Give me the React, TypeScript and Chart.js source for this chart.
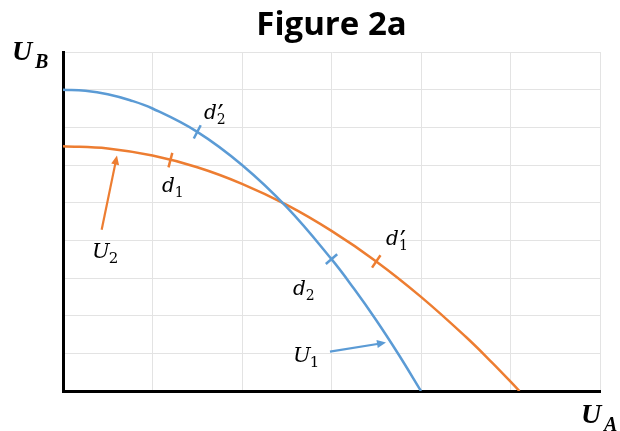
import React, { useEffect, useRef } from "react";
import { Chart, registerables } from "chart.js";

Chart.register(...registerables);

// ---- data ----
const TITLE = "Figure 2a";
const xRange = [0, 6];
const yRange = [0, 9];

const u1X = [0, 0.25, 0.5, 0.75, 1, 1.5, 2, 2.5, 3, 3.25, 3.5, 3.75, 4];
const u1Y = [8, 7.97, 7.88, 7.72, 7.5, 6.88, 6, 4.88, 3.5, 2.72, 1.88, 0.97, 0];

const u2X = [0, 0.5, 1, 1.5, 2, 2.5, 3, 3.5, 4, 4.5, 4.8, 5.1];
const u2Y = [6.5, 6.44, 6.25, 5.94, 5.5, 4.94, 4.25, 3.44, 2.5, 1.44, 0.74, 0];

// tick marks on the curves: series index, x, y
const markSeries = [0, 1, 0, 1];
const markX = [1.5, 1.2, 3.0, 3.5];
const markY = [6.88, 6.13, 3.5, 3.44];

// math labels: main letter, subscript, prime, position (data units: left, baseline)
const labelMain = ["d", "d", "U", "d", "U", "d"];
const labelSub = ["2", "1", "2", "2", "1", "1"];
const labelPrime = [true, false, false, false, false, true];
const labelX = [1.575, 1.106, 0.324, 2.57, 2.57, 3.61];
const labelY = [7.21, 5.27, 3.54, 2.55, 0.77, 3.88];

// arrows: series colour index, from (x,y) to tip (x,y)
const arrowSeries = [1, 0];
const arrowFromX = [0.432, 2.983];
const arrowFromY = [4.28, 1.045];
const arrowToX = [0.603, 3.609];
const arrowToY = [6.25, 1.285];

const COLORS = ["#5B9BD5", "#ED7D31"];
const SERIES_X = [u1X, u2X];
const SERIES_Y = [u1Y, u2Y];

const overlay = {
  id: "overlay",
  afterDraw(chart: any) {
    const ctx = chart.ctx as CanvasRenderingContext2D;
    const xs = chart.scales.x;
    const ys = chart.scales.y;
    const area = chart.chartArea;
    ctx.save();

    // title
    ctx.fillStyle = "#000";
    ctx.font = 'bold 33px "Open Sans"';
    ctx.textAlign = "center";
    ctx.textBaseline = "alphabetic";
    ctx.fillText(TITLE, (area.left + area.right) / 2, 35);

    // axis labels
    ctx.textAlign = "left";
    ctx.font = 'bold italic 28px "Liberation Serif"';
    ctx.fillText("U", area.left - 51, area.top + 8);
    ctx.font = 'bold italic 20px "Liberation Serif"';
    ctx.fillText("B", area.left - 28, area.top + 16);
    ctx.font = 'bold italic 28px "Liberation Serif"';
    ctx.fillText("U", area.right - 19, area.bottom + 32);
    ctx.font = 'bold italic 20px "Liberation Serif"';
    ctx.fillText("A", area.right + 4, area.bottom + 40);

    // tick marks
    for (let i = 0; i < markX.length; i++) {
      const s = markSeries[i];
      const sx = SERIES_X[s];
      const sy = SERIES_Y[s];
      let k = 0;
      while (k < sx.length - 2 && sx[k + 1] < markX[i]) k++;
      const dx = xs.getPixelForValue(sx[k + 1]) - xs.getPixelForValue(sx[k]);
      const dy = ys.getPixelForValue(sy[k + 1]) - ys.getPixelForValue(sy[k]);
      const len = Math.hypot(dx, dy);
      const nx = -dy / len;
      const ny = dx / len;
      const px = xs.getPixelForValue(markX[i]);
      const py = ys.getPixelForValue(markY[i]);
      ctx.strokeStyle = COLORS[s];
      ctx.lineWidth = 2.5;
      ctx.beginPath();
      ctx.moveTo(px - nx * 7.5, py - ny * 7.5);
      ctx.lineTo(px + nx * 7.5, py + ny * 7.5);
      ctx.stroke();
    }

    // arrows
    for (let i = 0; i < arrowFromX.length; i++) {
      const x0 = xs.getPixelForValue(arrowFromX[i]);
      const y0 = ys.getPixelForValue(arrowFromY[i]);
      const x1 = xs.getPixelForValue(arrowToX[i]);
      const y1 = ys.getPixelForValue(arrowToY[i]);
      const a = Math.atan2(y1 - y0, x1 - x0);
      const c = COLORS[arrowSeries[i]];
      ctx.strokeStyle = c;
      ctx.fillStyle = c;
      ctx.lineWidth = 2.2;
      const hl = 9;
      const hw = 4;
      ctx.beginPath();
      ctx.moveTo(x0, y0);
      ctx.lineTo(x1 - Math.cos(a) * hl * 0.8, y1 - Math.sin(a) * hl * 0.8);
      ctx.stroke();
      ctx.beginPath();
      ctx.moveTo(x1, y1);
      ctx.lineTo(x1 - Math.cos(a) * hl - Math.sin(a) * hw, y1 - Math.sin(a) * hl + Math.cos(a) * hw);
      ctx.lineTo(x1 - Math.cos(a) * hl + Math.sin(a) * hw, y1 - Math.sin(a) * hl - Math.cos(a) * hw);
      ctx.closePath();
      ctx.fill();
    }

    // math labels
    ctx.fillStyle = "#000";
    for (let i = 0; i < labelMain.length; i++) {
      const lx = xs.getPixelForValue(labelX[i]);
      const ly = ys.getPixelForValue(labelY[i]);
      const isU = labelMain[i] === "U";
      const size = isU ? 21 : 20;
      ctx.font = `italic ${size}px "DejaVu Serif"`;
      ctx.fillText(labelMain[i], lx, ly);
      const w = ctx.measureText(labelMain[i]).width;
      ctx.font = `${Math.round(size * 0.7)}px "DejaVu Serif"`;
      ctx.fillText(labelSub[i], lx + w - (isU ? 1 : 0), ly + 5);
      if (labelPrime[i]) {
        ctx.font = `26px "DejaVu Serif"`;
        ctx.fillText("\u2032", lx + w + 1, ly + 4);
      }
    }
    ctx.restore();
  },
};

export default function App() {
  const ref = useRef<HTMLCanvasElement | null>(null);
  useEffect(() => {
    if (!ref.current) return;
    const datasets = [0, 1].map((s) => ({
      label: s === 0 ? "U1" : "U2",
      data: SERIES_X[s].map((x, i) => ({ x, y: SERIES_Y[s][i] })),
      borderColor: COLORS[s],
      backgroundColor: COLORS[s],
      borderWidth: 2.5,
      pointRadius: 0,
      showLine: true,
      fill: false,
      tension: 0.4,
    }));
    const chart = new Chart(ref.current, {
      type: "scatter",
      data: { datasets },
      options: {
        responsive: true,
        maintainAspectRatio: false,
        animation: false,
        layout: { padding: { left: 63, right: 20, top: 52, bottom: 40 } },
        plugins: {
          legend: { display: false },
          tooltip: { enabled: false },
          title: { display: false },
        },
        scales: {
          x: {
            type: "linear",
            min: xRange[0],
            max: xRange[1],
            ticks: { display: false, stepSize: 1 },
            grid: { color: "#e3e3e3", lineWidth: 1, drawTicks: false },
            border: { color: "#000", width: 3 },
          },
          y: {
            type: "linear",
            min: yRange[0],
            max: yRange[1],
            ticks: { display: false, stepSize: 1 },
            grid: { color: "#e3e3e3", lineWidth: 1, drawTicks: false },
            border: { color: "#000", width: 3 },
          },
        },
      },
      plugins: [overlay],
    });
    return () => chart.destroy();
  }, []);
  return (
    <div style={{ position: "fixed", left: 0, top: 0, width: 620, height: 431, background: "#fff" }}>
      <canvas ref={ref} />
    </div>
  );
}
